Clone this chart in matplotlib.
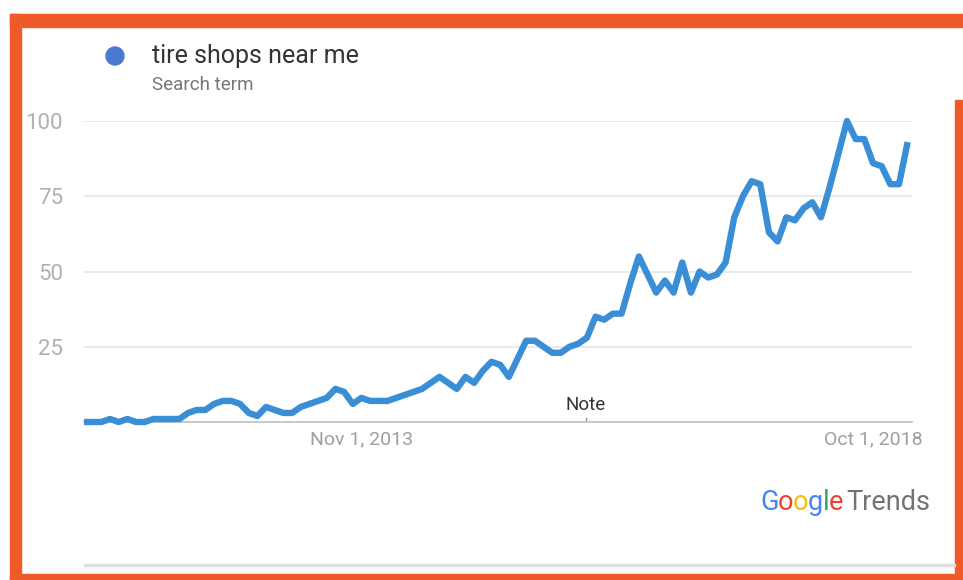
import numpy as np
import matplotlib
matplotlib.use("Agg")
import matplotlib.pyplot as plt
from matplotlib.patches import Rectangle, Ellipse

plt.rcParams['font.family'] = ['Roboto', 'DejaVu Sans']

# monthly interest, Mar 2011 .. Feb 2019 (index 0..95)
interest = [0, 0, 0, 1, 0, 1, 0, 0, 1, 1, 1, 1, 3, 4, 4, 6, 7, 7, 6, 3,
            2, 5, 4, 3, 3, 5, 6, 7, 8, 11, 10, 6, 8, 7, 7, 7, 8, 9, 10, 11,
            13, 15, 13, 11, 15, 13, 17, 20, 19, 15, 21, 27, 27, 25, 23, 23, 25, 26, 28, 35,
            34, 36, 36, 46, 55, 49, 43, 47, 43, 53, 43, 50, 48, 49, 53, 68, 75, 80, 79, 63,
            60, 68, 67, 71, 73, 68, 78, 89, 100, 94, 94, 86, 85, 79, 79, 93]
months = np.arange(len(interest))

y_ticks = [25, 50, 75, 100]
x_tick_pos = [32, 91]
x_tick_labels = ['Nov 1, 2013', 'Oct 1, 2018']
note_pos = 57.9
term = 'tire shops near me'

W, H = 963, 580
fig = plt.figure(figsize=(W / 100, H / 100), dpi=100)
fig.patch.set_facecolor('white')


def rect(x0, y0, x1, y1, color):
    fig.patches.append(Rectangle((x0 / W, 1 - y1 / H), (x1 - x0) / W, (y1 - y0) / H,
                                 transform=fig.transFigure, color=color, zorder=0))


def fx(x):
    return x / W


def fy(y):
    return 1 - y / H


orange = '#f05a28'
rect(10, 14, 963, 27, orange)
rect(10, 14, 21, 580, orange)
rect(10, 574, 963, 580, orange)
rect(955, 100, 963, 580, orange)
rect(84, 564, 955, 566, '#dedede')

# legend
fig.patches.append(Ellipse((fx(115), fy(56)), 18 / W, 18 / H, transform=fig.transFigure,
                           color='#4a7bd0', zorder=2))
fig.text(fx(152), fy(56), term, fontsize=18, color='#333333', va='center')
fig.text(fx(152), fy(85), 'Search term', fontsize=13.5, color='#777777', va='center')

ax = fig.add_axes([fx(84), fy(422), (912 - 84) / W, (422 - 121) / H])
ax.plot(months, interest, color='#3a8ed6', lw=4.6, solid_joinstyle='round',
        solid_capstyle='butt', clip_on=False, zorder=3)
ax.set_xlim(0, 95.5)
ax.set_ylim(0, 100)

ax.set_yticks(y_ticks)
ax.set_yticklabels([str(v) for v in y_ticks])
ax.set_xticks(x_tick_pos)
ax.set_xticklabels(x_tick_labels)
ax.tick_params(axis='y', length=0, pad=15, labelsize=16, labelcolor='#b0b0b0')
ax.tick_params(axis='x', length=0, pad=6, labelsize=14, labelcolor='#9e9e9e')
ax.grid(axis='y', color='#e6e6e6', lw=1.2)
ax.set_axisbelow(True)
for s in ['top', 'left', 'right']:
    ax.spines[s].set_visible(False)
ax.spines['bottom'].set_color('#c4c4c4')
ax.spines['bottom'].set_linewidth(1.3)

# note marker
ax.plot([note_pos, note_pos], [0, 1.4], color='#999999', lw=1, zorder=2)
ax.text(note_pos, 5.6, 'Note', ha='center', va='center', fontsize=13.5, color='#333333')

# Google Trends logo
fig.canvas.draw()
renderer = fig.canvas.get_renderer()
letters = ['G', 'o', 'o', 'g', 'l', 'e']
colors = ['#4285f4', '#ea4335', '#fbbc05', '#4285f4', '#34a853', '#ea4335']
x = 760
for ch, c in zip(letters, colors):
    t = fig.text(fx(x), fy(503), ch, fontsize=19.5, color=c, va='center')
    bb = t.get_window_extent(renderer)
    x += bb.width * 0.97
fig.text(fx(x + 3), fy(503), 'Trends', fontsize=19.5, color='#737373', va='center')

fig.savefig('out.png', dpi=100)
